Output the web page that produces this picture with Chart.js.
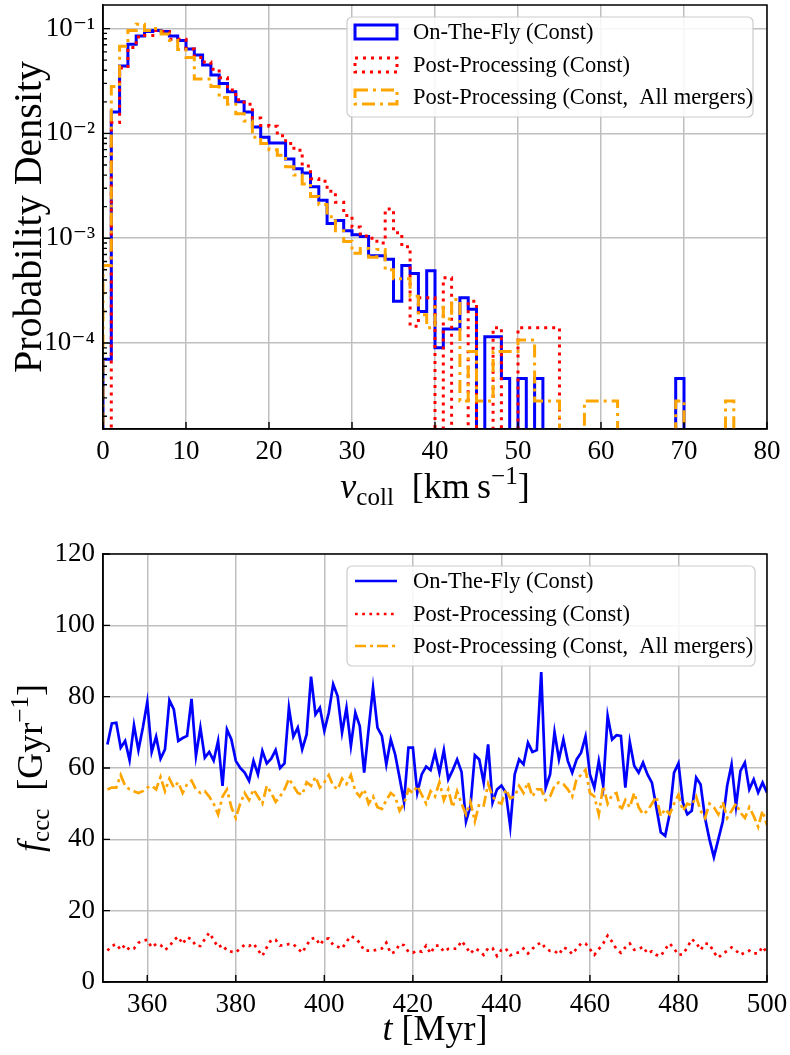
<!DOCTYPE html>
<html>
<head>
<meta charset="utf-8">
<script src="https://cdn.jsdelivr.net/npm/chart.js@4.4.1/dist/chart.umd.min.js"></script>
<style>
  html, body { margin: 0; padding: 0; background: #fff; }
  #wadah { position: relative; width: 790px; height: 1055px; }
  #wadah canvas { position: absolute; left: 0; }
</style>
</head>
<body>
<div id="wadah">
  <canvas id="grafikAtas" width="790" height="520" style="top:0"></canvas>
  <canvas id="grafikBawah" width="790" height="535" style="top:520px"></canvas>
</div>
<script>
// ===== Data panel atas: histogram kecepatan tumbukan (bin 1 km/s) =====
const tepiBin = [0,1,2,3,4,5,6,7,8,9,10,11,12,13,14,15,16,17,18,19,20,21,22,23,24,25,26,27,28,29,30,
  31,32,33,34,35,36,37,38,39,40,41,42,43,44,45,46,47,48,49,50,51,52,53,54,55,56,57,58,59,60,
  61,62,63,64,65,66,67,68,69,70,71,72,73,74,75,76,77,78,79,80];

const histOnTheFly = [
  7e-5, 0.016, 0.044, 0.071, 0.085, 0.094, 0.096, 0.094, 0.085, 0.077,
  0.064, 0.056, 0.045, 0.036, 0.030, 0.025, 0.020, 0.016, 0.0115, 0.0092,
  0.0081, 0.0081, 0.0057, 0.0046, 0.0042, 0.0031, 0.0023, 0.00138, 0.00148, 0.00118,
  0.00108, 0.00104, 0.00068, 0.00068, 0.00063, 0.00025, 0.00055, 0.00046, 0.00020, 0.00049,
  0.00009, 0.000136, 0.000136, 0.00027, 0.00021, 0, 0.000115, 0.000115, 0.000046, 0,
  0.000046, 0, 0.000046, 0, 0, 0, 0, 0, 0, 0,
  0, 0, 0, 0, 0, 0, 0, 0, 0, 0.000046,
  0, 0, 0, 0, 0, 0, 0, 0, 0, 0];

const histPostProc = [
  0, 0.0127, 0.042, 0.066, 0.083, 0.086, 0.096, 0.094, 0.079, 0.079,
  0.064, 0.053, 0.048, 0.041, 0.034, 0.026, 0.021, 0.019, 0.014, 0.0119,
  0.0117, 0.0095, 0.0080, 0.0069, 0.0049, 0.0037, 0.0035, 0.0028, 0.0022, 0.00165,
  0.00128, 0.00105, 0.00100, 0.00090, 0.0019, 0.00113, 0.00083, 0.000145, 0.00027, 0.00027,
  0, 0.00042, 0, 0, 0.00025, 0, 0, 0.00014, 0, 0,
  0.00014, 0.00014, 0.00014, 0.00014, 0.00014, 0, 0, 0, 0, 0,
  0, 0, 0, 0, 0, 0, 0, 0, 0, 0,
  0, 0, 0, 0, 0, 0, 0, 0, 0, 0];

const histSemuaMerger = [
  0.00055, 0.028, 0.068, 0.096, 0.11, 0.096, 0.10, 0.089, 0.077, 0.063,
  0.053, 0.033, 0.033, 0.028, 0.022, 0.019, 0.0154, 0.0131, 0.0092, 0.0080,
  0.0070, 0.0062, 0.0048, 0.0040, 0.0033, 0.0025, 0.0021, 0.0016, 0.00118, 0.00093,
  0.00072, 0.0008, 0.00066, 0.00078, 0.0005, 0.00041, 0.00041, 0.00028, 0.000186, 0.00014,
  0.00022, 0.00017, 0.00026, 0.000028, 0.000083, 0.000028, 0.000028, 0.000083, 0.000083, 0.000083,
  0.000107, 0.000107, 0.000028, 0.000028, 0.000028, 0, 0, 0, 0.000028, 0.000028,
  0.000028, 0.000028, 0, 0, 0, 0, 0, 0, 0, 0.000028,
  0, 0, 0, 0, 0, 0.000028, 0, 0, 0, 0];

const tickXAtas = [0, 10, 20, 30, 40, 50, 60, 70, 80];
const tickYAtas = [1e-4, 1e-3, 1e-2, 1e-1];
const labelYAtas = { 0.0001: '10\u207B\u2074', 0.001: '10\u207B\u00B3', 0.01: '10\u207B\u00B2', 0.1: '10\u207B\u00B9' };

// ===== Data panel bawah: laju tumbukan terhadap waktu =====
const waktuMyr = [351,352,353,354,355,356,357,358,359,360,361,362,363,364,365,366,367,368,369,370,
  371,372,373,374,375,376,377,378,379,380,381,382,383,384,385,386,387,388,389,390,
  391,392,393,394,395,396,397,398,399,400,401,402,403,404,405,406,407,408,409,410,
  411,412,413,414,415,416,417,418,419,420,421,422,423,424,425,426,427,428,429,430,
  431,432,433,434,435,436,437,438,439,440,441,442,443,444,445,446,447,448,449,450,
  451,452,453,454,455,456,457,458,459,460,461,462,463,464,465,466,467,468,469,470,
  471,472,473,474,475,476,477,478,479,480,481,482,483,484,485,486,487,488,489,490,
  491,492,493,494,495,496,497,498,499,500];

const fOnTheFly = [
  66.6, 72.5, 72.7, 65.7, 67.6, 62.2, 72, 65, 71.3, 78.5,
  64.5, 68.8, 62.6, 65.2, 79, 76.4, 67.6, 68.4, 69, 79.4,
  63.4, 71.3, 62.9, 64.5, 62.1, 67.6, 55, 70.8, 68, 62,
  60, 58.7, 56.4, 62, 58.2, 64.8, 61.3, 62.6, 65, 60,
  61.3, 76.9, 68.8, 71.3, 65.2, 69.4, 85.6, 75, 76.9, 70.4,
  75.5, 83.5, 80.2, 69.9, 76.9, 66.2, 75.5, 71.8, 58.7, 70.8,
  82.5, 71.3, 69, 61, 68, 63.8, 57.3, 50.5, 65.7, 65.7,
  53.1, 58.2, 60.4, 59.4, 64.3, 58.7, 65, 56.8, 59.4, 62.4,
  58.9, 45, 49.3, 63.6, 62.4, 55.9, 66.6, 50.3, 54, 55.1,
  53.1, 43.5, 58.2, 62.4, 61, 67.1, 64.5, 65, 86.9, 54.5,
  58.2, 70.1, 62.4, 68, 62, 58.7, 62.4, 64.3, 68.8, 58.2,
  54.5, 62, 55, 74.6, 68, 69.2, 69, 54.5, 67.3, 60.6,
  58.7, 61.5, 58.2, 55.9, 49, 42, 41, 47, 58.7, 61.3,
  50.3, 47, 48, 57.3, 55.4, 46, 40, 35, 40, 45,
  55, 61, 49.3, 59.2, 61.5, 54, 56.8, 53.1, 55.9, 53.1];

const fPostProc = [
  8.8, 10.1, 10.65, 9, 10.4, 9, 9.4, 11, 11.6, 11.8,
  9.7, 10.65, 10.4, 9, 9.9, 11.8, 12.7, 10.65, 12.5, 12,
  10.1, 10.1, 12, 13.8, 11.8, 9.7, 10.4, 8.8, 8.5, 8.3,
  9.4, 10.4, 10.1, 10.8, 9, 7.3, 9.7, 11.8, 11.8, 10.2,
  10.4, 10.6, 10.6, 9.4, 8.2, 10.3, 12.1, 12.4, 10.4, 12,
  12.2, 10.4, 9.9, 9.4, 11.3, 12.9, 12.2, 11, 8.8, 8.8,
  8.8, 9.1, 9.4, 11, 8, 8.5, 10.6, 10.3, 8.5, 8.2,
  8.8, 8.5, 10.2, 8, 10.2, 10.2, 8.5, 9.3, 9.3, 9.4,
  11.5, 9.9, 8, 9.4, 8.8, 7.6, 9.5, 9.5, 7.3, 9,
  9.4, 7.5, 8.0, 8.3, 9.4, 8, 9.3, 10.4, 11.1, 9.4,
  8.7, 8.7, 7.7, 9.7, 9.2, 7.8, 9.4, 10.8, 10.8, 9.2,
  7.6, 9.2, 10.8, 13, 11.3, 9.2, 8.2, 9.7, 10.8, 9,
  9.2, 9.9, 8, 8.6, 7.6, 7.3, 9.2, 10.8, 9.4, 7.6,
  7.8, 9.7, 12, 11, 9, 10.8, 10.65, 8.3, 6.8, 8,
  8.7, 9.7, 8.8, 7.6, 8.3, 8.8, 8, 8, 9.9, 8.2];

const fSemuaMerger = [
  54, 54.5, 54.5, 58, 55, 54, 53.5, 53, 53.5, 54.5,
  55, 54, 57.5, 53.5, 57, 54.5, 56, 53, 55.5, 56.5,
  54, 53, 53.5, 52, 50, 47, 52, 54, 49, 46,
  50, 53, 51, 54, 52, 50, 55, 53, 50.5, 52,
  54, 57, 55, 53, 52.5, 56, 55, 57.5, 54.5, 56,
  58, 55, 54, 57, 55.5, 58, 53.5, 52, 54, 50,
  52, 49, 48.5, 51, 53, 52, 48, 50, 54, 53,
  55, 52.5, 50, 53.5, 52, 56, 51, 54, 49, 53.5,
  50, 47, 50.5, 45, 50, 49.5, 55.5, 52, 50.5, 50,
  54, 51.5, 52, 55, 53, 56, 52, 54, 54, 51,
  52, 55, 56, 55.5, 54, 52, 57, 58, 59.5, 53,
  52, 47, 55, 50, 52.5, 53, 48, 51, 49, 53,
  49, 47, 48, 50, 52, 46.5, 48.5, 47, 50, 52.5,
  48, 50, 49.5, 52, 48, 46, 50, 49, 47, 50.5,
  46, 48, 50, 47.5, 46, 49, 46.5, 43.5, 48, 44];

const tickXBawah = [360, 380, 400, 420, 440, 460, 480, 500];
const tickYBawah = [0, 20, 40, 60, 80, 100, 120];

const namaSeri = ['On-The-Fly (Const)', 'Post-Processing (Const)', 'Post-Processing (Const,\u2002All mergers)'];

// ===== Gaya =====
const SERIF = '"Liberation Serif", "DejaVu Serif", serif';
const BIRU = '#0000ff', MERAH = '#ff0000', ORANYE = '#ffa500';
const NOL_LOG = 1e-9; // bin kosong digambar jauh di bawah sumbu (terpotong)

// Susun titik tangga (step) dari tepi bin dan nilai histogram
function susunTangga(nilai) {
  const aman = (v) => (v > 0 ? v : NOL_LOG);
  const titik = [{ x: tepiBin[0], y: NOL_LOG }];
  nilai.forEach((v, i) => titik.push({ x: tepiBin[i], y: aman(v) }));
  const akhir = tepiBin[nilai.length];
  titik.push({ x: akhir, y: aman(nilai[nilai.length - 1]) });
  titik.push({ x: akhir, y: NOL_LOG });
  return titik;
}

function pasangkan(xs, ys) {
  return ys.map((v, i) => ({ x: xs[i], y: v }));
}

// Tulis teks campuran (miring, subskrip, superskrip) berurutan
function tulisTeksKaya(ctx, potongan, cx, cy, putar) {
  ctx.save();
  ctx.translate(cx, cy);
  if (putar) ctx.rotate(-Math.PI / 2);
  ctx.fillStyle = '#000';
  ctx.textBaseline = 'alphabetic';
  let total = 0;
  potongan.forEach((p) => { ctx.font = p.f; p.w = ctx.measureText(p.t).width; total += p.w; });
  let x = -total / 2;
  potongan.forEach((p) => {
    ctx.font = p.f;
    ctx.textAlign = 'left';
    ctx.fillText(p.t, x, (p.dy || 0) + 12);
    x += p.w;
  });
  ctx.restore();
}

const fBesar = '36px ' + SERIF, fBesarMiring = 'italic 36px ' + SERIF, fKecil = '25px ' + SERIF;

// Plugin: bingkai, tick ke dalam, judul sumbu, legenda kotak
const pluginHiasan = {
  id: 'hiasan',
  afterDatasetsDraw(chart, args, opt) {
    const { ctx, chartArea: a, scales } = chart;
    ctx.save();
    ctx.strokeStyle = '#000';
    ctx.lineWidth = 1.4;
    ctx.beginPath();
    scales.x.ticks.forEach((t) => {
      const px = scales.x.getPixelForValue(t.value);
      ctx.moveTo(px, a.bottom); ctx.lineTo(px, a.bottom - 7);
    });
    scales.y.ticks.forEach((t) => {
      const py = scales.y.getPixelForValue(t.value);
      ctx.moveTo(a.left, py); ctx.lineTo(a.left + 7, py);
    });
    (opt.tickMinorY || []).forEach((v) => {
      const py = scales.y.getPixelForValue(v);
      if (py > a.top && py < a.bottom) { ctx.moveTo(a.left, py); ctx.lineTo(a.left + 4, py); }
    });
    ctx.stroke();
    ctx.lineWidth = 1.5;
    ctx.strokeRect(a.left, a.top, a.right - a.left, a.bottom - a.top);
    ctx.restore();
  },
  afterDraw(chart, args, opt) {
    const { ctx, chartArea: a } = chart;
    // judul sumbu
    tulisTeksKaya(ctx, opt.judulX, (a.left + a.right) / 2, opt.judulXy, false);
    tulisTeksKaya(ctx, opt.judulY, opt.judulYx, (a.top + a.bottom) / 2, true);
    // legenda
    const lg = opt.legenda;
    const bx = a.right - lg.kanan - lg.lebar, by = a.top + lg.atas;
    ctx.save();
    ctx.beginPath();
    ctx.roundRect(bx, by, lg.lebar, lg.tinggi, 5);
    ctx.fillStyle = 'rgba(255,255,255,0.85)';
    ctx.fill();
    ctx.strokeStyle = '#cccccc';
    ctx.lineWidth = 1.2;
    ctx.stroke();
    chart.data.datasets.forEach((ds, i) => {
      const cy = by + lg.baris[i];
      ctx.strokeStyle = ds.borderColor;
      ctx.lineWidth = ds.borderWidth;
      ctx.setLineDash(ds.borderDash || []);
      ctx.beginPath();
      if (lg.kotak) {
        ctx.rect(bx + 8, cy - 7, 42, 14);
      } else {
        ctx.moveTo(bx + 8, cy); ctx.lineTo(bx + 50, cy);
      }
      ctx.stroke();
      ctx.setLineDash([]);
      ctx.fillStyle = '#000';
      ctx.font = '22.5px ' + SERIF;
      ctx.textBaseline = 'middle';
      ctx.textAlign = 'left';
      ctx.fillText(ds.label, bx + 66, cy + 1);
    });
    ctx.restore();
  }
};

const tickMinorLog = [];
[1e-5, 1e-4, 1e-3, 1e-2, 1e-1].forEach((d) => { [2, 3, 4, 5, 6, 7, 8, 9].forEach((k) => tickMinorLog.push(k * d)); });

function gayaGrid() {
  return { color: '#bfbfbf', lineWidth: 1.5, drawTicks: false };
}
function gayaTick(extra) {
  return Object.assign({ color: '#000', font: { family: SERIF, size: 27 }, maxRotation: 0, autoSkip: false }, extra);
}
// Paksa ukuran sumbu supaya area plot tepat di posisi yang diinginkan
function pasUkuranX(tinggi) {
  return (s) => { s.height = tinggi; s.paddingLeft = 0; s.paddingRight = 0; s.paddingTop = 0; s.paddingBottom = 0; };
}
function pasUkuranY(lebar) {
  return (s) => { s.width = lebar; s.paddingLeft = 0; s.paddingRight = 0; s.paddingTop = 0; s.paddingBottom = 0; };
}

// ===== Grafik atas =====
new Chart(document.getElementById('grafikAtas'), {
  type: 'line',
  data: {
    datasets: [
      { label: namaSeri[0], data: susunTangga(histOnTheFly), borderColor: BIRU, borderWidth: 3, stepped: true, order: 2 },
      { label: namaSeri[1], data: susunTangga(histPostProc), borderColor: MERAH, borderWidth: 3, borderDash: [3, 5], stepped: true, order: 1 },
      { label: namaSeri[2], data: susunTangga(histSemuaMerger), borderColor: ORANYE, borderWidth: 3, borderDash: [13, 5, 3, 5], stepped: true, order: 0 }
    ]
  },
  options: {
    responsive: false,
    animation: false,
    events: [],
    layout: { autoPadding: false, padding: { left: 0, right: 23, top: 5, bottom: 0 } },
    elements: { point: { radius: 0 }, line: { tension: 0, fill: false } },
    plugins: {
      legend: { display: false },
      tooltip: { enabled: false },
      hiasan: {
        tickMinorY: tickMinorLog,
        judulX: [
          { t: 'v', f: fBesarMiring },
          { t: 'coll', f: fKecil, dy: 7 },
          { t: '  [km\u2009s', f: fBesar },
          { t: '\u22121', f: fKecil, dy: -14 },
          { t: ']', f: fBesar }
        ],
        judulXy: 486,
        judulY: [{ t: 'Probability Density', f: '40px ' + SERIF }],
        judulYx: 29,
        legenda: { kanan: 14, atas: 12, lebar: 406, tinggi: 100, baris: [15, 48, 80], kotak: true }
      }
    },
    scales: {
      x: {
        type: 'linear', min: 0, max: 80,
        afterBuildTicks: (s) => { s.ticks = tickXAtas.map((v) => ({ value: v })); },
        afterFit: pasUkuranX(91),
        grid: gayaGrid(),
        border: { display: true, color: '#000', width: 1.5 },
        ticks: gayaTick({ padding: 7 })
      },
      y: {
        type: 'logarithmic', min: Math.pow(10, -4.82), max: Math.pow(10, -0.775),
        afterBuildTicks: (s) => { s.ticks = tickYAtas.map((v) => ({ value: v })); },
        afterFit: pasUkuranY(103),
        grid: gayaGrid(),
        border: { display: true, color: '#000', width: 1.5 },
        ticks: gayaTick({ padding: 8, callback: (v) => labelYAtas[v] || '' })
      }
    }
  },
  plugins: [pluginHiasan]
});

// ===== Grafik bawah =====
new Chart(document.getElementById('grafikBawah'), {
  type: 'line',
  data: {
    datasets: [
      { label: namaSeri[0], data: pasangkan(waktuMyr, fOnTheFly), borderColor: BIRU, borderWidth: 2.7, order: 2 },
      { label: namaSeri[1], data: pasangkan(waktuMyr, fPostProc), borderColor: MERAH, borderWidth: 2.7, borderDash: [2.7, 4.5], order: 1 },
      { label: namaSeri[2], data: pasangkan(waktuMyr, fSemuaMerger), borderColor: ORANYE, borderWidth: 2.7, borderDash: [11, 4, 3, 4], order: 0 }
    ]
  },
  options: {
    responsive: false,
    animation: false,
    events: [],
    layout: { autoPadding: false, padding: { left: 0, right: 23, top: 34, bottom: 0 } },
    elements: { point: { radius: 0 }, line: { tension: 0, fill: false } },
    plugins: {
      legend: { display: false },
      tooltip: { enabled: false },
      hiasan: {
        judulX: [
          { t: 't', f: fBesarMiring },
          { t: ' [Myr]', f: fBesar }
        ],
        judulXy: 508,
        judulY: [
          { t: 'f', f: fBesarMiring },
          { t: 'ccc', f: fKecil, dy: 7 },
          { t: '  [Gyr', f: fBesar },
          { t: '\u22121', f: fKecil, dy: -14 },
          { t: ']', f: fBesar }
        ],
        judulYx: 30,
        legenda: { kanan: 12, atas: 12, lebar: 408, tinggi: 100, baris: [15, 48, 80], kotak: false }
      }
    },
    scales: {
      x: {
        type: 'linear', min: 350, max: 500,
        afterBuildTicks: (s) => { s.ticks = tickXBawah.map((v) => ({ value: v })); },
        afterFit: pasUkuranX(73),
        grid: gayaGrid(),
        border: { display: true, color: '#000', width: 1.5 },
        ticks: gayaTick({ padding: 7 })
      },
      y: {
        type: 'linear', min: 0, max: 120,
        afterBuildTicks: (s) => { s.ticks = tickYBawah.map((v) => ({ value: v })); },
        afterFit: pasUkuranY(103),
        grid: gayaGrid(),
        border: { display: true, color: '#000', width: 1.5 },
        ticks: gayaTick({ padding: 8 })
      }
    }
  },
  plugins: [pluginHiasan]
});
</script>
</body>
</html>
